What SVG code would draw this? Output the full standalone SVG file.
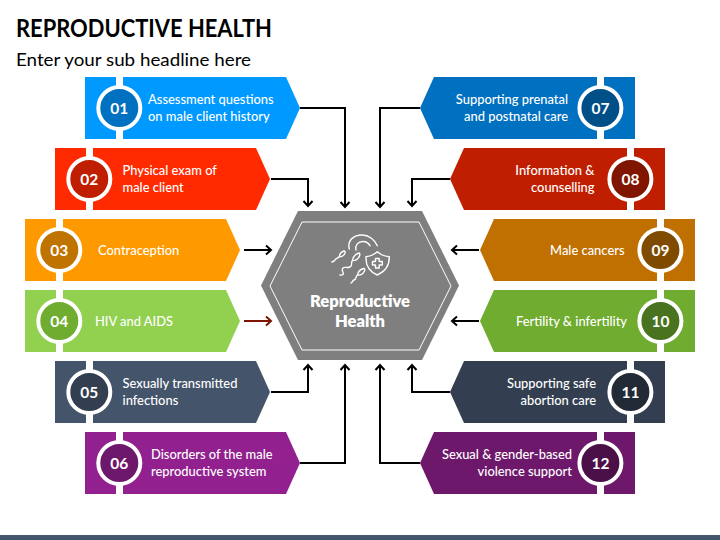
<svg xmlns="http://www.w3.org/2000/svg" width="720" height="540" viewBox="0 0 720 540">
<style>
text{font-family:Lato,"Open Sans","Liberation Sans",sans-serif;fill:#fff}
.t{font-size:12.9px;font-weight:500}
.e{text-anchor:end}
.n{font-size:15.5px;font-weight:700;text-anchor:middle}
.strip{fill:#fff}
.ring{stroke:#fff;stroke-width:4}
.c{fill:none;stroke:#000;stroke-width:2;marker-end:url(#a)}
.ic{fill:none;stroke:#fff;stroke-width:1.4;stroke-linecap:round;stroke-linejoin:round}
</style>
<defs>
<marker id="a" markerUnits="userSpaceOnUse" markerWidth="12" markerHeight="12" refX="9" refY="6" orient="auto"><path d="M4 1.500 9 6 4 10.500" fill="none" stroke="#000" stroke-width="2"/></marker>
<marker id="r" markerUnits="userSpaceOnUse" markerWidth="12" markerHeight="12" refX="9" refY="6" orient="auto"><path d="M4 1.500 9 6 4 10.500" fill="none" stroke="#7f1500" stroke-width="2"/></marker>
</defs>
<rect id="footer" y="535" width="720" height="5" fill="#44546a"/>
<text id="title" x="16" y="37" font-size="24" font-weight="700" style="fill:#000" textLength="256" lengthAdjust="spacingAndGlyphs">REPRODUCTIVE HEALTH</text>
<text id="subtitle" x="16" y="66" font-size="18" style="fill:#000" textLength="235" lengthAdjust="spacingAndGlyphs">Enter your sub headline here</text>
<g id="connectors">
<path class="c" d="M300 108H345V207"/>
<path class="c" d="M271 179H308V206"/>
<path class="c" d="M244 250H271"/>
<path class="c" d="M244 321H271" style="stroke:#7f1500;marker-end:url(#r)"/>
<path class="c" d="M271 392H308V365"/>
<path class="c" d="M300 463H345V365"/>
<path class="c" d="M420 108H380V207"/>
<path class="c" d="M450 179H412V206"/>
<path class="c" d="M479 250H452"/>
<path class="c" d="M479 321H452"/>
<path class="c" d="M450 392H412V365"/>
<path class="c" d="M420 463H380V365"/>
</g>
<g id="node-01"><path d="M85 77H286L300 108 286 139H85Z" fill="#0099ff"/><rect class="strip" x="116" y="77" width="7" height="62"/><circle class="ring" cx="119.300" cy="108" r="21" fill="#0070c0"/><text class="n" x="119.300" y="113.500">01</text><text class="t" x="148" y="104">Assessment questions</text><text class="t" x="148" y="121">on male client history</text></g>
<g id="node-02"><path d="M55 148H256L270 179 256 210H55Z" fill="#ff2a00"/><rect class="strip" x="86" y="148" width="7" height="62"/><circle class="ring" cx="89.300" cy="179" r="21" fill="#bf1f00"/><text class="n" x="89.300" y="184.500">02</text><text class="t" x="122.500" y="175">Physical exam of</text><text class="t" x="122.500" y="192">male client</text></g>
<g id="node-03"><path d="M25 219H226L240 250 226 281H25Z" fill="#ff9900"/><rect class="strip" x="56" y="219" width="7" height="62"/><circle class="ring" cx="59.300" cy="250" r="21" fill="#bf7300"/><text class="n" x="59.300" y="255.500">03</text><text class="t" x="98" y="255">Contraception</text></g>
<g id="node-04"><path d="M25 290H226L240 321 226 352H25Z" fill="#92d050"/><rect class="strip" x="56" y="290" width="7" height="62"/><circle class="ring" cx="59.300" cy="321" r="21" fill="#6fac2f"/><text class="n" x="59.300" y="326.500">04</text><text class="t" x="95" y="325.500">HIV and AIDS</text></g>
<g id="node-05"><path d="M55 361H256L270 392 256 423H55Z" fill="#44546a"/><rect class="strip" x="86" y="361" width="7" height="62"/><circle class="ring" cx="89.300" cy="392" r="21" fill="#333f50"/><text class="n" x="89.300" y="397.500">05</text><text class="t" x="122.500" y="388">Sexually transmitted</text><text class="t" x="122.500" y="405">infections</text></g>
<g id="node-06"><path d="M85 432H286L300 463 286 494H85Z" fill="#92208f"/><rect class="strip" x="116" y="432" width="7" height="62"/><circle class="ring" cx="119.300" cy="463" r="21" fill="#6e186b"/><text class="n" x="119.300" y="468.500">06</text><text class="t" x="151" y="459">Disorders of the male</text><text class="t" x="151" y="476">reproductive system</text></g>
<g id="node-07"><path d="M635 77H434L420 108 434 139H635Z" fill="#0070c0"/><rect class="strip" x="597" y="77" width="7" height="62"/><circle class="ring" cx="600.400" cy="108" r="21" fill="#004f87"/><text class="n" x="600.400" y="113.500">07</text><text class="t e" x="568" y="104">Supporting prenatal</text><text class="t e" x="568" y="121">and postnatal care</text></g>
<g id="node-08"><path d="M665 148H464L450 179 464 210H665Z" fill="#bf1f00"/><rect class="strip" x="627" y="148" width="7" height="62"/><circle class="ring" cx="630.400" cy="179" r="21" fill="#801500"/><text class="n" x="630.400" y="184.500">08</text><text class="t e" x="594.500" y="175">Information &amp;</text><text class="t e" x="594.500" y="192">counselling</text></g>
<g id="node-09"><path d="M695 219H494L480 250 494 281H695Z" fill="#bf7000"/><rect class="strip" x="657" y="219" width="7" height="62"/><circle class="ring" cx="660.400" cy="250" r="21" fill="#7f4b00"/><text class="n" x="660.400" y="255.500">09</text><text class="t e" x="624.500" y="255">Male cancers</text></g>
<g id="node-10"><path d="M695 290H494L480 321 494 352H695Z" fill="#6fac2f"/><rect class="strip" x="657" y="290" width="7" height="62"/><circle class="ring" cx="660.400" cy="321" r="21" fill="#4a731f"/><text class="n" x="660.400" y="326.500">10</text><text class="t e" x="627" y="325.500">Fertility &amp; infertility</text></g>
<g id="node-11"><path d="M665 361H464L450 392 464 423H665Z" fill="#333f50"/><rect class="strip" x="627" y="361" width="7" height="62"/><circle class="ring" cx="630.400" cy="392" r="21" fill="#222a35"/><text class="n" x="630.400" y="397.500">11</text><text class="t e" x="596" y="388">Supporting safe</text><text class="t e" x="596" y="405">abortion care</text></g>
<g id="node-12"><path d="M635 432H434L420 463 434 494H635Z" fill="#6e186b"/><rect class="strip" x="597" y="432" width="7" height="62"/><circle class="ring" cx="600.400" cy="463" r="21" fill="#4a1047"/><text class="n" x="600.400" y="468.500">12</text><text class="t e" x="572" y="459">Sexual &amp; gender-based</text><text class="t e" x="572" y="476">violence support</text></g>
<g id="hub">
<path d="M298 211H422L459 285.500 422 360H298L261 285.500Z" fill="#7f7f7f"/>
<path d="M302 222H419L451 286 419 350H302L270 286Z" fill="none" stroke="#fff" stroke-width="1"/>
<g class="ic">
<path d="M349.300 249C347 240 354 235 362 235C369 235 375 240 377.300 245.700"/>
<path d="M356 250C355 245 358 241.500 363 241.500C366 241.500 368.500 243 370 245.700"/>
<path d="M377.300 251.700C373.500 255 370 256.500 366 256.700C365.500 265 369 271.500 377.300 275C385.500 271.500 389.500 265 389.300 256.700C385 256.500 381 255 377.300 251.700Z"/>
<path d="M375.500 258.500H379.200V261.500H382.300V265H379.200V268H375.500V265H372.500V261.500H375.500Z"/>
<path d="M344 251C341 252 339.500 254.500 339.500 256.500C341.500 257 344 255.500 345 253C345.300 252 345 251 344 251Z"/>
<path d="M339.500 256.500C338 258.500 336 258 334.500 260.500C333.500 262 332.500 261.500 331.700 262"/>
<path d="M359 253C355.500 254 353 257 352.500 260.500C355 261 358.500 259 359.500 256C360 254.500 360 253.500 359 253Z"/>
<path d="M352.500 260.500C350 263 353.500 265 350 267C347 268.500 344 266 342.500 268.500C341 271 344.500 272.500 343 274.500C342 275.500 341 275 340 275"/>
<path d="M363.500 268.500C360 269.500 358 272 357.500 275C360 275.500 363 274 364.500 271C365 269.500 364.800 268.500 363.500 268.500Z"/>
<path d="M357.500 275C355 276.500 357 279 354 280C352 280.700 352.500 283 351 283"/>
</g>
<text x="360" y="306.500" font-size="16.500" font-weight="800" text-anchor="middle">Reproductive</text>
<text x="360" y="327" font-size="16.500" font-weight="800" text-anchor="middle">Health</text>
</g>
</svg>
